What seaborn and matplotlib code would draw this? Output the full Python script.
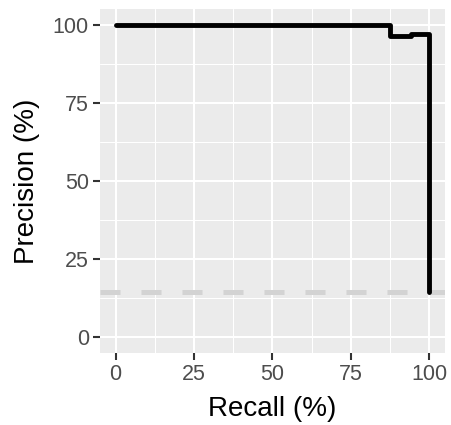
import pandas as pd
import matplotlib as mpl
mpl.use("Agg")
import matplotlib.pyplot as plt
import seaborn as sns
from matplotlib.ticker import MultipleLocator

# Precision-recall step curve (percent)
recall = [0, 87.5, 87.5, 94.0, 94.0, 99.8, 99.8]
precision = [100, 100, 96.4, 96.4, 96.9, 96.9, 14.6]
baseline = 14.4  # prevalence of positives

ticks = [0, 25, 50, 75, 100]

df = pd.DataFrame({"recall": recall, "precision": precision})

sns.set_theme(style="darkgrid")
mpl.rcParams["font.family"] = ["Liberation Sans", "DejaVu Sans"]
mpl.rcParams["axes.facecolor"] = "#EBEBEB"
mpl.rcParams["axes.edgecolor"] = "#EBEBEB"

fig = plt.figure(figsize=(4.51, 4.25), dpi=100)
ax = fig.add_axes([0.2217, 0.1694, 0.765, 0.8094])

ax.axhline(baseline, color="#D3D3D3", linewidth=3.6, dashes=(4, 4.2), zorder=2)
sns.lineplot(data=df, x="recall", y="precision", sort=False, estimator=None,
             color="black", linewidth=3.5, ax=ax, zorder=3)

ax.set_xlim(-5, 105)
ax.set_ylim(-5, 105)
ax.set_xticks(ticks)
ax.set_yticks(ticks)
ax.xaxis.set_minor_locator(MultipleLocator(12.5))
ax.yaxis.set_minor_locator(MultipleLocator(12.5))
ax.grid(which="major", color="white", linewidth=1.5)
ax.grid(which="minor", color="white", linewidth=0.75)
for s in ax.spines.values():
    s.set_visible(False)

ax.tick_params(which="major", length=5, width=1.5, color="#333333",
               labelcolor="#4D4D4D", labelsize=15.5, pad=3,
               bottom=True, left=True)
ax.tick_params(which="minor", length=0)

ax.set_xlabel("Recall (%)", fontsize=20, color="black", labelpad=8)
ax.set_ylabel("Precision (%)", fontsize=20, color="black", labelpad=9)

fig.savefig("out.png", dpi=100)
plt.close(fig)
